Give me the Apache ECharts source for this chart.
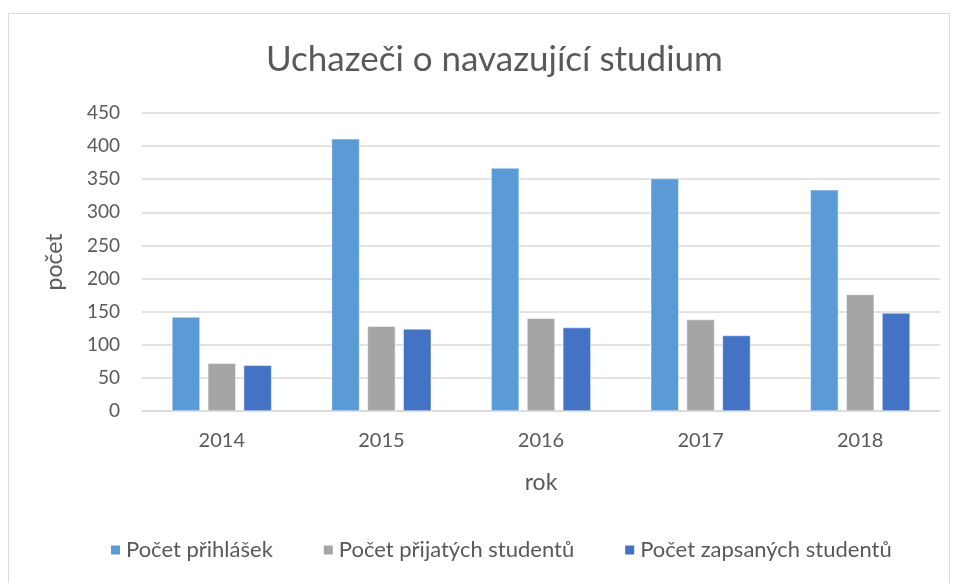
<!DOCTYPE html>
<html>
<head>
<meta charset="utf-8">
<script src="https://cdn.jsdelivr.net/npm/echarts@6/dist/echarts.min.js"></script>
<style>
html, body { margin: 0; padding: 0; background: #fff; }
#chart { width: 957px; height: 583px; }
</style>
</head>
<body>
<div id="chart"></div>
<script>
// roky
const years = ['2014', '2015', '2016', '2017', '2018'];
// hodnoty
const prihlasky = [142, 411, 367, 351, 334];
const prijati = [72, 128, 140, 138, 176];
const zapsani = [69, 124, 126, 114, 148];

const textColor = '#595959';
const fontFamily = 'Lato, "Open Sans", sans-serif';

function barSeries(name, data, color) {
    return {
        name: name,
        type: 'bar',
        data: data,
        barWidth: 28,
        barGap: '28%',
        itemStyle: { color: color, borderColor: '#fff', borderWidth: 0.5 }
    };
}

const option = {
    animation: false,
    backgroundColor: '#fff',
    textStyle: { fontFamily: fontFamily },
    title: {
        text: 'Uchazeči o navazující studium',
        left: 261,
        top: 37,
        textStyle: { color: textColor, fontSize: 35, fontWeight: 'normal', fontFamily: fontFamily }
    },
    graphic: [{
        type: 'rect',
        shape: { x: 8.5, y: 13.5, width: 941, height: 600 },
        style: { fill: null, stroke: '#d9d9d9', lineWidth: 1 },
        silent: true
    }],
    legend: {
        bottom: 17,
        left: 104,
        itemWidth: 11,
        itemHeight: 11,
        itemGap: 49,
        icon: 'rect',
        textStyle: { color: textColor, fontSize: 22, fontFamily: fontFamily }
    },
    grid: { left: 142, right: 17, top: 113, bottom: 172 },
    xAxis: {
        type: 'category',
        data: years,
        name: 'rok',
        nameLocation: 'middle',
        nameGap: 60,
        nameTextStyle: { color: textColor, fontSize: 23 },
        axisLine: { lineStyle: { color: '#d9d9d9', width: 1.5 } },
        axisTick: { show: false },
        axisLabel: { color: textColor, fontSize: 20, margin: 20 }
    },
    yAxis: {
        type: 'value',
        min: 0,
        max: 450,
        interval: 50,
        name: 'počet',
        nameLocation: 'middle',
        nameGap: 76,
        nameTextStyle: { color: textColor, fontSize: 23 },
        axisLine: { show: false },
        axisTick: { show: false },
        axisLabel: { color: textColor, fontSize: 19, margin: 22 },
        splitLine: { lineStyle: { color: '#d9d9d9', width: 1.5 } }
    },
    series: [
        barSeries('Počet přihlášek', prihlasky, '#5b9bd5'),
        barSeries('Počet přijatých studentů', prijati, '#a5a5a5'),
        barSeries('Počet zapsaných studentů', zapsani, '#4472c4')
    ]
};

const myChart = echarts.init(document.getElementById('chart'));
myChart.setOption(option);
window.addEventListener('resize', function () {
    myChart.resize();
});
</script>
</body>
</html>
